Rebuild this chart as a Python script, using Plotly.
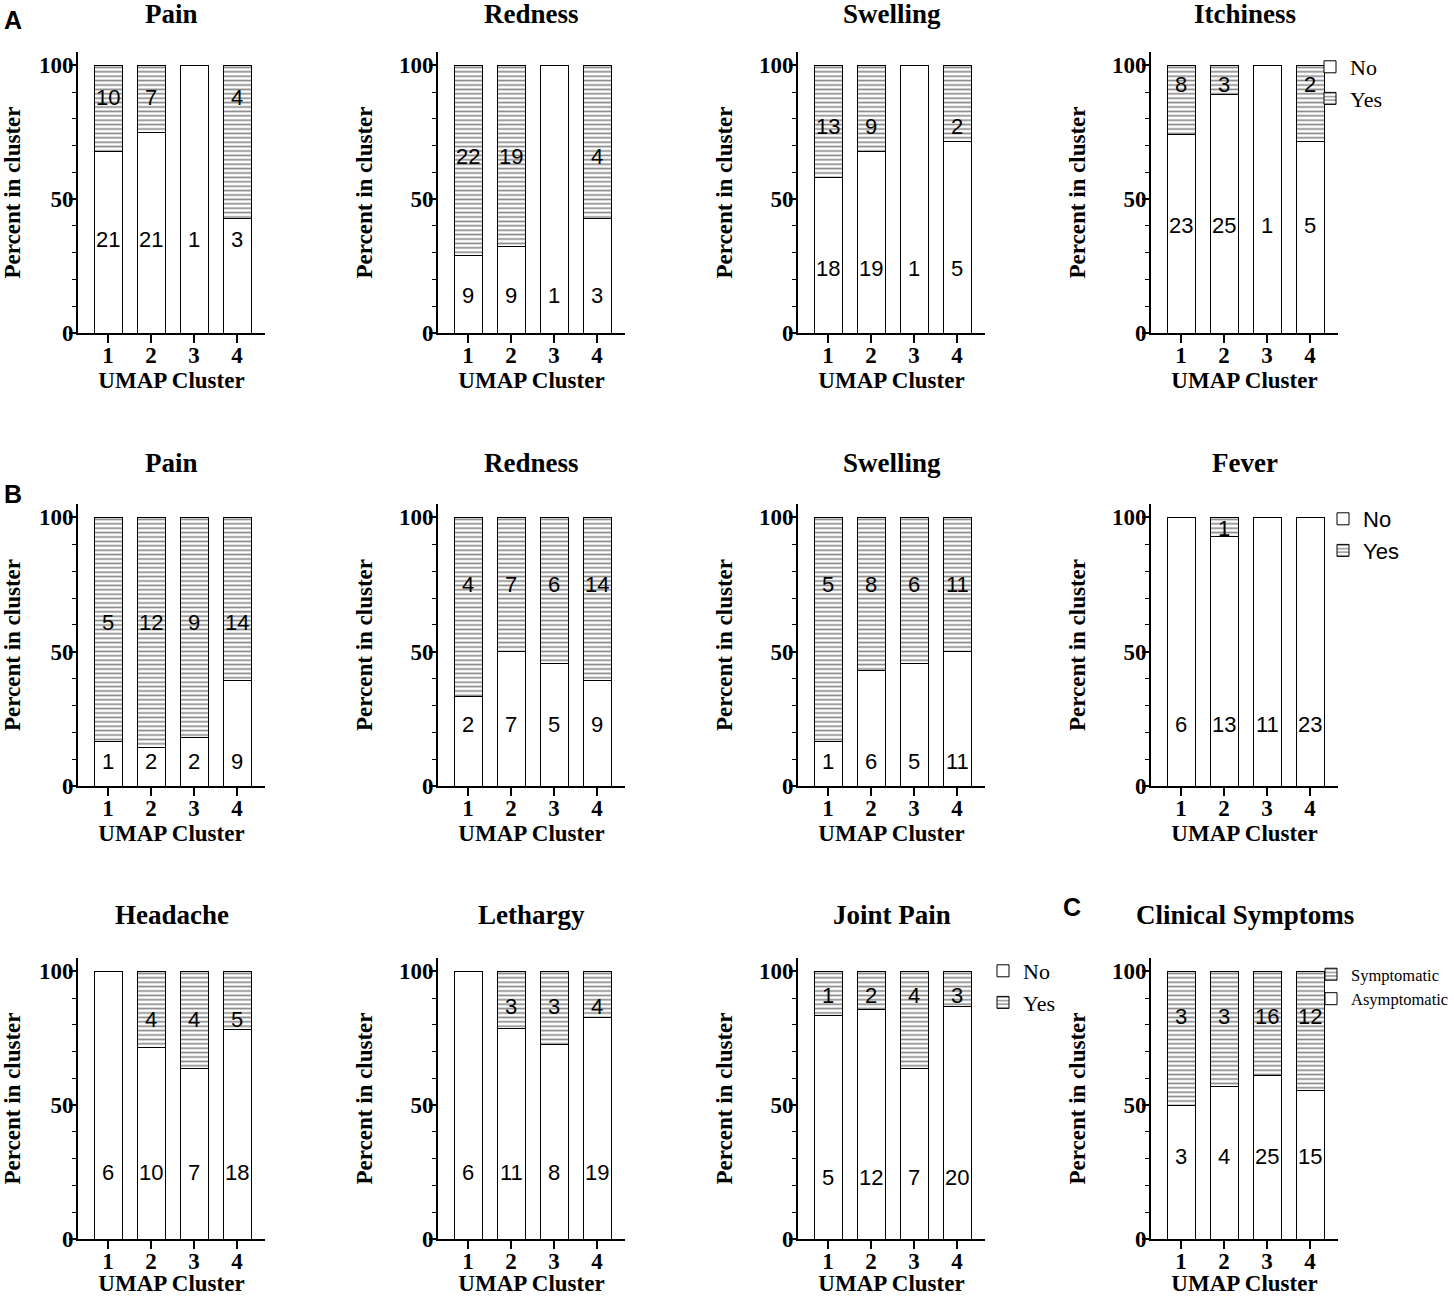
import plotly.graph_objects as go

W, H = 1454, 1296

clusters = [1, 2, 3, 4]

# A: counts per UMAP cluster (No / Yes)
pain_a_no = [21, 21, 1, 3]
pain_a_yes = [10, 7, 0, 4]
redness_a_no = [9, 9, 1, 3]
redness_a_yes = [22, 19, 0, 4]
swelling_a_no = [18, 19, 1, 5]
swelling_a_yes = [13, 9, 0, 2]
itchiness_no = [23, 25, 1, 5]
itchiness_yes = [8, 3, 0, 2]

# B
pain_b_no = [1, 2, 2, 9]
pain_b_yes = [5, 12, 9, 14]
redness_b_no = [2, 7, 5, 9]
redness_b_yes = [4, 7, 6, 14]
swelling_b_no = [1, 6, 5, 11]
swelling_b_yes = [5, 8, 6, 11]
fever_no = [6, 13, 11, 23]
fever_yes = [0, 1, 0, 0]
headache_no = [6, 10, 7, 18]
headache_yes = [0, 4, 4, 5]
lethargy_no = [6, 11, 8, 19]
lethargy_yes = [0, 3, 3, 4]
joint_pain_no = [5, 12, 7, 20]
joint_pain_yes = [1, 2, 4, 3]

# C
asymptomatic = [3, 4, 25, 15]
symptomatic = [3, 3, 16, 12]

titles = ["Pain", "Redness", "Swelling", "Itchiness",
          "Pain", "Redness", "Swelling", "Fever",
          "Headache", "Lethargy", "Joint Pain", "Clinical Symptoms"]
no_counts = [pain_a_no, redness_a_no, swelling_a_no, itchiness_no,
             pain_b_no, redness_b_no, swelling_b_no, fever_no,
             headache_no, lethargy_no, joint_pain_no, asymptomatic]
yes_counts = [pain_a_yes, redness_a_yes, swelling_a_yes, itchiness_yes,
              pain_b_yes, redness_b_yes, swelling_b_yes, fever_yes,
              headache_yes, lethargy_yes, joint_pain_yes, symptomatic]

# where the count labels sit in each panel (No label, Yes label), in % units
label_pos = [(35, 88), (14, 66), (24, 77), (40, 93),
             (9, 61), (23, 75), (9, 75), (23, 96),
             (25, 82), (25, 87), (23, 91), (31, 83)]

# legends: panel index -> (legend id, names, font, size, pixel x, pixel y, order)
legends = {
    3: ("legend", ("No", "Yes"), "Liberation Serif", 22, 1310, 46, "normal"),
    7: ("legend2", ("No", "Yes"), "Liberation Sans", 22, 1323, 498, "normal"),
    10: ("legend3", ("No", "Yes"), "Liberation Serif", 22, 983, 950, "normal"),
    11: ("legend4", ("Asymptomatic", "Symptomatic"), "Liberation Serif", 16.5, 1311, 957, "reversed"),
}

col_left = [78, 438, 798, 1151]
plot_w = 187
row_top = [52, 504, 958]
row_bot = [333, 786, 1239]
title_y = [14, 463, 915]

serif = "Liberation Serif, Times New Roman, serif"
sans = "Liberation Sans, Arial, sans-serif"


def fx(px):
    return px / W


def fy(py):
    return 1 - py / H


fig = go.Figure()
layout = {}
annotations = []

for i, title in enumerate(titles):
    r, c = divmod(i, 4)
    n = i + 1
    xa = "x" if n == 1 else f"x{n}"
    ya = "y" if n == 1 else f"y{n}"
    no = no_counts[i]
    yes = yes_counts[i]
    tot = [a + b for a, b in zip(no, yes)]
    pct_no = [100 * a / t for a, t in zip(no, tot)]
    pct_yes = [100 * b / t for b, t in zip(yes, tot)]

    leg = legends.get(i)
    names = leg[1] if leg else ("No", "Yes")
    legend_id = leg[0] if leg else "legend"

    fig.add_trace(go.Bar(
        x=clusters, y=pct_no, name=names[0], xaxis=xa, yaxis=ya,
        width=0.65, marker=dict(color="white", line=dict(color="black", width=1)),
        showlegend=leg is not None, legend=legend_id,
    ))
    fig.add_trace(go.Bar(
        x=clusters, y=pct_yes, name=names[1], xaxis=xa, yaxis=ya,
        width=0.65,
        marker=dict(color="white", line=dict(color="black", width=1),
                    pattern=dict(shape="-", size=4.4, solidity=0.38,
                                 fgcolor="#111111", bgcolor="white")),
        showlegend=leg is not None, legend=legend_id,
    ))

    key = "" if n == 1 else str(n)
    layout["xaxis" + key] = dict(
        domain=[fx(col_left[c]), fx(col_left[c] + plot_w)], anchor=ya,
        range=[0.3, 4.65], automargin=False,
        tickvals=clusters, ticks="outside", ticklen=8, tickwidth=1.5,
        tickcolor="black", showline=True, linecolor="black", linewidth=2,
        showgrid=False, zeroline=False, ticklabelstandoff=-8,
        tickfont=dict(family=serif, size=23, color="black", weight="bold"),
        title=dict(text="UMAP Cluster", standoff=4,
                   font=dict(family=serif, size=23, color="black", weight="bold")),
    )
    layout["yaxis" + key] = dict(
        domain=[fy(row_bot[r]), fy(row_top[r])], anchor=xa,
        range=[0, 105], automargin=False,
        tickvals=[0, 50, 100], ticks="outside", ticklen=7, tickwidth=1.5,
        tickcolor="black", showline=True, linecolor="black", linewidth=2,
        showgrid=False, zeroline=False, ticklabelstandoff=-9,
        minor=dict(tick0=0, dtick=10, ticks="outside", ticklen=4,
                   tickwidth=1.2, tickcolor="black", showgrid=False),
        tickfont=dict(family=serif, size=23, color="black", weight="bold"),
        title=dict(text="Percent in cluster", standoff=20,
                   font=dict(family=serif, size=23, color="black", weight="bold")),
    )

    annotations.append(dict(
        text=title, xref="paper", yref="paper",
        x=fx(col_left[c] + plot_w / 2), y=fy(title_y[r]),
        showarrow=False, xanchor="center", yanchor="middle",
        font=dict(family=serif, size=27, color="black", weight="bold"),
    ))

    ly_no, ly_yes = label_pos[i]
    for k, cl in enumerate(clusters):
        if no[k] > 0:
            annotations.append(dict(text=str(no[k]), xref=xa, yref=ya, x=cl, y=ly_no,
                                    showarrow=False, font=dict(family=sans, size=22, color="black")))
        if yes[k] > 0:
            annotations.append(dict(text=str(yes[k]), xref=xa, yref=ya, x=cl, y=ly_yes,
                                    showarrow=False, font=dict(family=sans, size=22, color="black")))

for letter, px, py in [("A", 13, 20), ("B", 13, 494), ("C", 1072, 907)]:
    annotations.append(dict(
        text=letter, xref="paper", yref="paper", x=fx(px), y=fy(py),
        showarrow=False, xanchor="center", yanchor="middle",
        font=dict(family=sans, size=25, color="black", weight="bold"),
    ))

for idx, (lid, names, fam, size, px, py, order) in legends.items():
    layout[lid] = dict(
        x=fx(px), y=fy(py), xanchor="left", yanchor="top",
        traceorder=order, bgcolor="rgba(0,0,0,0)", itemwidth=30,
        font=dict(family=fam, size=size, color="black"),
        tracegroupgap=0,
    )

fig.update_layout(
    **layout,
    annotations=annotations,
    barmode="stack",
    width=W, height=H,
    margin=dict(l=0, r=0, t=0, b=0, autoexpand=False),
    plot_bgcolor="white", paper_bgcolor="white",
    showlegend=True,
)

# drop the default page margin so the figure fills the window exactly
fig.write_html("out.html", config={"displayModeBar": False},
               post_script="document.body.style.margin = '0';")
